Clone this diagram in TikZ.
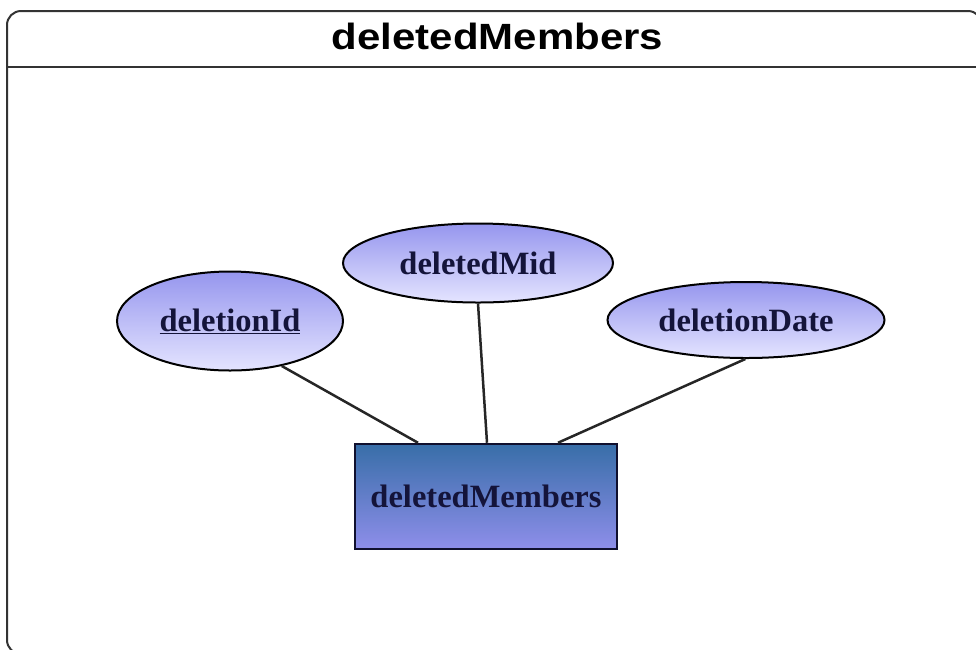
\documentclass[tikz,border=0pt]{standalone}
\usepackage{fontspec}
\setmainfont{Liberation Serif}
\newfontfamily\titlefont{Liberation Sans}
\usetikzlibrary{shapes.geometric}
\definecolor{frameclr}{HTML}{333333}
\definecolor{elltop}{HTML}{9696EE}
\definecolor{ellbot}{HTML}{E4E4FF}
\definecolor{boxtop}{HTML}{386EA8}
\definecolor{boxbot}{HTML}{8E8EEA}
\definecolor{txtclr}{HTML}{14143A}
\tikzset{
  attr/.style={ellipse, draw=black, line width=2pt, top color=elltop, bottom color=ellbot,
    inner sep=0pt, text=txtclr, font=\fontsize{32.5}{38}\selectfont\bfseries},
  entity/.style={rectangle, draw=txtclr!80!black, line width=2.5pt, top color=boxtop, bottom color=boxbot,
    inner sep=0pt, text=txtclr, font=\fontsize{32.5}{38}\selectfont\bfseries},
  link/.style={line width=2.5pt, draw=black!85}
}
\begin{document}
\begin{tikzpicture}[x=1pt,y=-1pt]
\useasboundingbox (0,0) rectangle (976,649);
\begin{scope}
\clip (0,0) rectangle (976,649);
\draw[frameclr, line width=2pt, rounded corners=14pt] (7,11) rectangle (982,654);
\draw[frameclr, line width=2pt] (7,67) -- (976,67);
\end{scope}
\node[font=\titlefont\fontsize{36.5}{42}\selectfont\bfseries, anchor=base, inner sep=0pt] (title) at (497.5,49) {\scalebox{1.15}[1]{deletedMembers}};
\node[attr, minimum width=226pt, minimum height=99pt] (did) at (230,321) {\underline{deletionId}};
\node[attr, minimum width=270pt, minimum height=79pt] (mid) at (478,263) {deletedMid};
\node[attr, minimum width=277pt, minimum height=76pt] (dd) at (746,320) {deletionDate};
\node[entity, minimum width=262pt, minimum height=105pt] (box) at (486,496.5) {deletedMembers};
\draw[link] (did.-41.5) -- ([xshift=-68pt]box.north);
\draw[link] (mid.south) -- ([xshift=1pt]box.north);
\draw[link] (dd.-91.5) -- ([xshift=72pt]box.north);
\end{tikzpicture}
\end{document}
